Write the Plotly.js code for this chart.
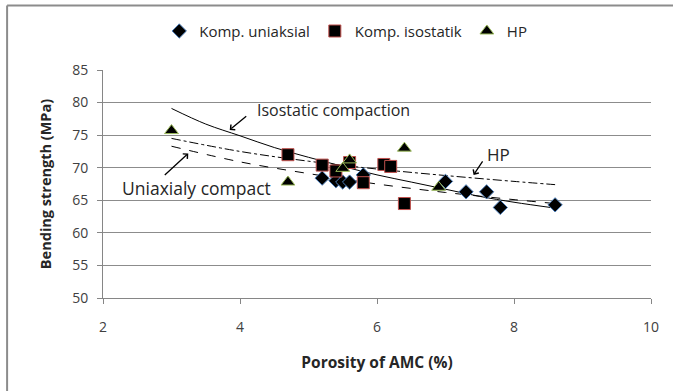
<!DOCTYPE html>
<html>
<head>
<meta charset="utf-8">
<script src="https://cdn.plot.ly/plotly-3.0.1.min.js"></script>
<style>html,body{margin:0;padding:0;background:#fff;}#chart{width:673px;height:391px;}</style>
</head>
<body>
<div id="chart"></div>
<script>
// Scatter data
var uniX = [5.2, 5.4, 5.5, 5.6, 5.8, 7.0, 7.3, 7.6, 7.8, 8.6];
var uniY = [68.4, 68.0, 67.8, 67.8, 68.9, 67.9, 66.3, 66.3, 63.9, 64.3];
var isoX = [4.7, 5.2, 5.4, 5.6, 5.8, 6.1, 6.2, 6.4];
var isoY = [72.0, 70.4, 69.5, 70.8, 67.7, 70.5, 70.2, 64.5];
var hpX = [3.0, 4.7, 5.5, 5.6, 6.4, 6.9];
var hpY = [75.7, 67.8, 69.9, 71.2, 73.0, 67.0];

// Trend curves
var isoFitX = [3, 3.5, 4, 4.5, 5, 5.5, 6, 6.5, 7, 7.5, 8, 8.6];
var isoFitY = [79.1, 76.7, 74.9, 73.1, 71.6, 70.2, 68.9, 67.8, 66.7, 65.6, 64.7, 63.8];
var uniFitX = [3, 4, 5, 6, 7, 8, 8.6];
var uniFitY = [73.3, 70.9, 69.1, 67.5, 66.2, 65.1, 64.5];
var hpFitX = [3, 4, 5, 6, 7, 8, 8.6];
var hpFitY = [74.5, 72.5, 71.0, 69.8, 68.8, 67.9, 67.4];

var seriesNames = ["Komp. uniaksial", "Komp. isostatik", "HP"];
var xTicks = [2, 4, 6, 8, 10];
var yTicks = [50, 55, 60, 65, 70, 75, 80, 85];

var FONT = "Open Sans, Noto Sans, sans-serif";

var traces = [
  {x: isoFitX, y: isoFitY, mode: "lines", line: {color: "#000", width: 1, shape: "spline"}, showlegend: false, hoverinfo: "skip"},
  {x: uniFitX, y: uniFitY, mode: "lines", line: {color: "#000", width: 1, dash: "dash", shape: "spline"}, showlegend: false, hoverinfo: "skip"},
  {x: hpFitX, y: hpFitY, mode: "lines", line: {color: "#000", width: 1, dash: "dashdot", shape: "spline"}, showlegend: false, hoverinfo: "skip"},
  {x: uniX, y: uniY, name: seriesNames[0], mode: "markers", type: "scatter",
   marker: {symbol: "diamond", size: 11, color: "#000", line: {color: "#4f81bd", width: 1}}},
  {x: isoX, y: isoY, name: seriesNames[1], mode: "markers", type: "scatter",
   marker: {symbol: "square", size: 12, color: "#000", line: {color: "#c0504d", width: 1}}},
  {x: hpX, y: hpY, name: seriesNames[2], mode: "markers", type: "scatter",
   marker: {symbol: "triangle-up", size: 12, color: "#000", line: {color: "#9bbb59", width: 1}}}
];

var layout = {
  width: 673, height: 391,
  margin: {l: 103, r: 22, t: 70, b: 93},
  paper_bgcolor: "#fff", plot_bgcolor: "#fff",
  font: {family: FONT, size: 14, color: "#404040"},
  showlegend: true,
  legend: {orientation: "h", x: 0.443, xanchor: "center", y: 1.17, yanchor: "middle",
           font: {family: FONT, size: 15, color: "#262626"}, itemwidth: 30, tracegroupgap: 0},
  xaxis: {range: [2, 10], tickvals: xTicks, ticks: "outside", ticklen: 5, tickcolor: "#868686",
          showline: true, linecolor: "#868686", linewidth: 1, showgrid: false, zeroline: false,
          ticklabelstandoff: 11,
          tickfont: {family: FONT, size: 14, color: "#404040"},
          title: {text: "<b>Porosity of AMC (%)</b>", font: {family: FONT, size: 15.5, color: "#262626"}, standoff: 22}},
  yaxis: {range: [50, 85], tickvals: yTicks, ticks: "outside", ticklen: 5, tickcolor: "#868686",
          showline: true, linecolor: "#868686", linewidth: 1, showgrid: true, gridcolor: "#8c8c8c", gridwidth: 1,
          zeroline: false, ticklabelstandoff: 6,
          tickfont: {family: FONT, size: 14, color: "#404040"},
          title: {text: "<b>Bending strength (MPa)</b>", font: {family: FONT, size: 14.5, color: "#262626"}, standoff: 17}},
  shapes: [
    {type: "line", xref: "paper", yref: "paper", x0: -0.175, x1: 1.2, y0: 1.283, y1: 1.283, line: {color: "#8c8c8c", width: 2}},
    {type: "line", xref: "paper", yref: "paper", x0: -0.175, x1: -0.175, y0: 1.283, y1: -0.5, line: {color: "#8c8c8c", width: 2}}
  ],
  annotations: [
    {x: 4.22, y: 78.9, xref: "x", yref: "y", text: "Isostatic compaction", showarrow: false, xanchor: "left", yanchor: "middle",
     font: {family: FONT, size: 16, color: "#262626"}},
    {x: 3.85, y: 75.8, xref: "x", yref: "y", text: "", showarrow: true, arrowhead: 4, arrowsize: 1, arrowwidth: 1.3, arrowcolor: "#000", ax: 18, ay: -15},
    {x: 2.25, y: 66.86, xref: "x", yref: "y", text: "Uniaxialy compact", showarrow: false, xanchor: "left", yanchor: "middle",
     font: {family: FONT, size: 17.5, color: "#262626"}},
    {x: 3.245, y: 72.2, xref: "x", yref: "y", text: "", showarrow: true, arrowhead: 4, arrowsize: 1, arrowwidth: 1.3, arrowcolor: "#000", ax: -25, ay: 23},
    {x: 7.58, y: 71.96, xref: "x", yref: "y", text: "HP", showarrow: false, xanchor: "left", yanchor: "middle",
     font: {family: FONT, size: 17, color: "#262626"}},
    {x: 7.41, y: 68.9, xref: "x", yref: "y", text: "", showarrow: true, arrowhead: 4, arrowsize: 1, arrowwidth: 1.3, arrowcolor: "#000", ax: 10, ay: -15}
  ]
};

Plotly.newPlot("chart", traces, layout, {staticPlot: true, displayModeBar: false});
</script>
</body>
</html>
